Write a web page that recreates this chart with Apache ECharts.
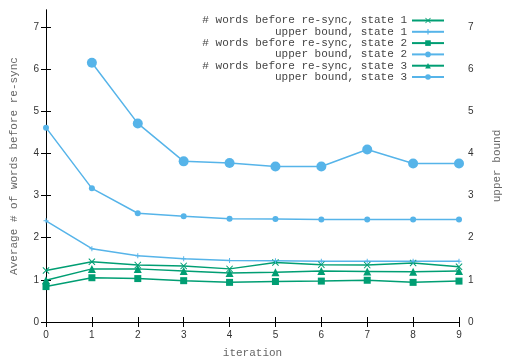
<!DOCTYPE html>
<html>
<head>
<meta charset="utf-8">
<script src="https://cdn.jsdelivr.net/npm/echarts@6/dist/echarts.min.js"></script>
<style>
  html, body { margin: 0; padding: 0; background: #fff; }
  #chart { width: 508px; height: 360px; }
</style>
</head>
<body>
<div id="chart"></div>
<script>
// Iterations on the x axis
const iterations = [0, 1, 2, 3, 4, 5, 6, 7, 8, 9];

// Average number of words before re-sync, per state
const wordsState1 = [1.22, 1.43, 1.35, 1.33, 1.26, 1.41, 1.36, 1.35, 1.40, 1.31];
const wordsState2 = [0.84, 1.05, 1.03, 0.98, 0.94, 0.96, 0.97, 0.99, 0.94, 0.97];
const wordsState3 = [0.99, 1.26, 1.26, 1.21, 1.16, 1.18, 1.21, 1.20, 1.19, 1.21];

// Upper bounds, per state (state 3 starts at iteration 1)
const boundState1 = [2.40, 1.74, 1.57, 1.50, 1.46, 1.45, 1.44, 1.44, 1.44, 1.44];
const boundState2 = [4.61, 3.17, 2.58, 2.51, 2.45, 2.44, 2.43, 2.43, 2.43, 2.43];
const boundState3 = [null, 6.15, 4.71, 3.81, 3.77, 3.69, 3.69, 4.09, 3.76, 3.76];

const yTicks = [0, 1, 2, 3, 4, 5, 6, 7];

const GREEN = '#009e73';
const BLUE = '#56b4e9';
const MONO = '"Liberation Mono", "DejaVu Sans Mono", monospace';
const SANS = '"Liberation Sans", Arial, sans-serif';

const crossPath = 'path://M0,1L1,0L5,4L9,0L10,1L6,5L10,9L9,10L5,6L1,10L0,9L4,5Z';
const plusPath = 'path://M4,0L6,0L6,4L10,4L10,6L6,6L6,10L4,10L4,6L0,6L0,4L4,4Z';

function pairs(values) {
  return iterations.map((x, i) => [x, values[i]]);
}

function makeSeries(name, values, color, symbol, size, axis) {
  return {
    name: name,
    type: 'line',
    yAxisIndex: axis,
    data: pairs(values),
    symbol: symbol,
    symbolSize: size,
    showAllSymbol: true,
    connectNulls: false,
    lineStyle: { color: color, width: 1.5 },
    itemStyle: { color: color },
    emphasis: { disabled: true },
    animation: false
  };
}

const series = [
  makeSeries('# words before re-sync, state 1', wordsState1, GREEN, crossPath, 7, 0),
  makeSeries('upper bound, state 1', boundState1, BLUE, plusPath, 5, 1),
  makeSeries('# words before re-sync, state 2', wordsState2, GREEN, 'rect', 7, 0),
  makeSeries('upper bound, state 2', boundState2, BLUE, 'circle', 6, 1),
  makeSeries('# words before re-sync, state 3', wordsState3, GREEN, 'triangle', 8, 0),
  makeSeries('upper bound, state 3', boundState3, BLUE, 'circle', 10, 1)
];

const legendWidth = Math.max(...series.map(s => s.name.length));

function yAxis(position, name, gap, labelMargin) {
  return {
    type: 'value',
    position: position,
    min: 0,
    max: 7.4,
    interval: 1,
    name: name,
    nameLocation: 'middle',
    nameRotate: 90,
    nameGap: gap,
    nameTextStyle: { fontFamily: MONO, fontSize: 11, color: '#666' },
    axisLine: { show: true, lineStyle: { color: '#000', width: 1 } },
    axisTick: { show: true, inside: true, length: 5, lineStyle: { color: '#000' } },
    axisLabel: {
      show: true,
      margin: labelMargin,
      showMaxLabel: false,
      fontFamily: SANS,
      fontSize: 10,
      color: '#333',
      formatter: v => (yTicks.includes(v) ? String(v) : '')
    },
    splitLine: { show: false }
  };
}

const chart = echarts.init(document.getElementById('chart'), null, { renderer: 'canvas' });
chart.setOption({
  animation: false,
  backgroundColor: '#fff',
  grid: { left: 46, right: 49, top: 10, bottom: 38, containLabel: false, outerBoundsMode: 'none' },
  legend: {
    orient: 'vertical',
    right: 63,
    top: 15,
    padding: 0,
    align: 'right',
    itemWidth: 32,
    itemHeight: 7,
    itemGap: 0.3,
    selectedMode: false,
    formatter: name => name.padStart(legendWidth, ' '),
    textStyle: { fontFamily: MONO, fontSize: 11, color: '#444', lineHeight: 11 },
    data: series.map(s => s.name)
  },
  xAxis: [
    {
      type: 'value',
      position: 'bottom',
      min: 0,
      max: 9,
      interval: 1,
      name: 'iteration',
      nameLocation: 'middle',
      nameGap: 26,
      nameTextStyle: { fontFamily: MONO, fontSize: 11, color: '#666' },
      axisLine: { show: true, lineStyle: { color: '#000', width: 1 } },
      axisTick: { show: true, inside: true, length: 5, lineStyle: { color: '#000' } },
      axisLabel: { margin: 8, fontFamily: SANS, fontSize: 10, color: '#333' },
      splitLine: { show: false }
    },
    {
      type: 'value',
      position: 'top',
      min: 0,
      max: 9,
      interval: 1,
      axisLine: { show: true, lineStyle: { color: '#000', width: 1 } },
      axisTick: { show: true, inside: true, length: 5, lineStyle: { color: '#000' } },
      axisLabel: { show: false },
      splitLine: { show: false }
    }
  ],
  yAxis: [
    yAxis('left', 'Average # of words before re-sync', 26, 7),
    yAxis('right', 'upper bound', 33, 9)
  ],
  series: series
});
</script>
</body>
</html>
